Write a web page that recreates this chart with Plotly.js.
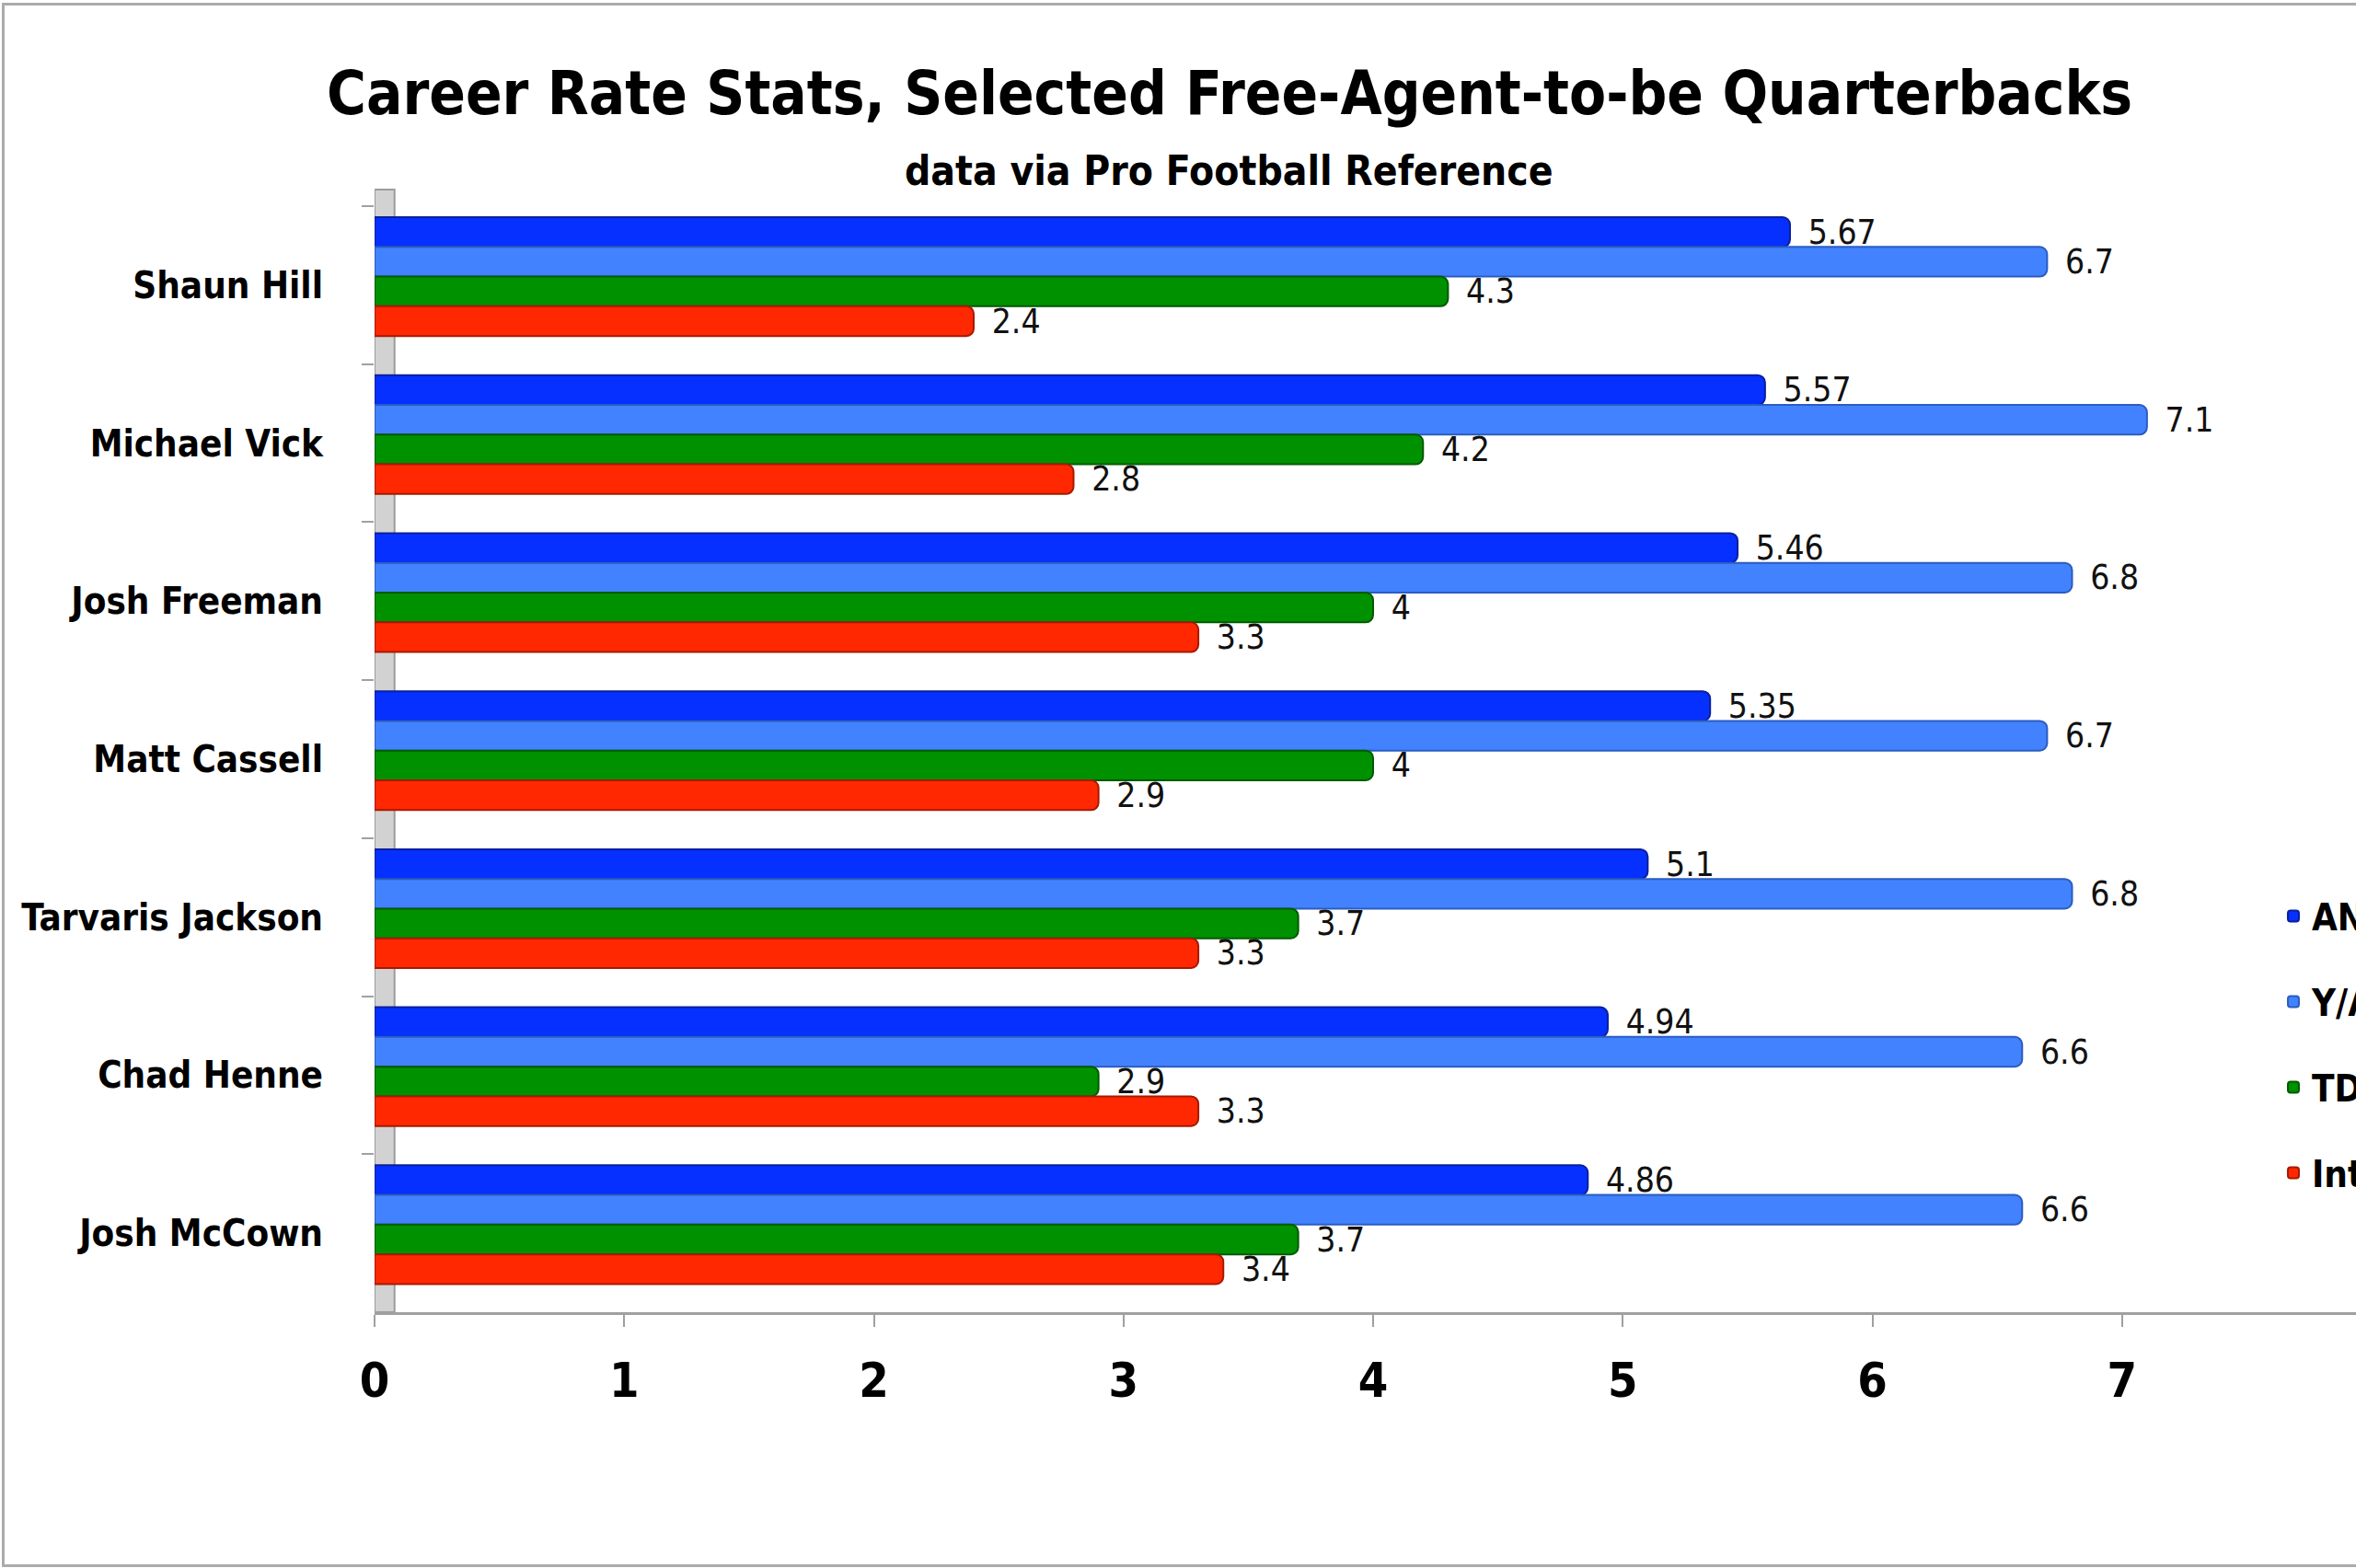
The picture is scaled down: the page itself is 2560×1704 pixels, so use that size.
<!DOCTYPE html>
<html>
<head>
<meta charset="utf-8">
<script src="https://cdn.plot.ly/plotly-3.0.1.min.js"></script>
<style>
  html, body { margin: 0; padding: 0; overflow: hidden; background: #fff; }
  #chart {
    position: absolute; left: 2px; top: 3px;
    width: 2800px; height: 1694px;
    border-left: 3px solid #ababab;
    border-top: 3px solid #ababab;
    border-bottom: 3px solid #ababab;
  }
</style>
</head>
<body>
<div id="chart"></div>
<script>
"use strict";

// values, top to bottom
const players = ['Shaun Hill', 'Michael Vick', 'Josh Freeman', 'Matt Cassell',
                 'Tarvaris Jackson', 'Chad Henne', 'Josh McCown'];
const anyA   = [5.67, 5.57, 5.46, 5.35, 5.1, 4.94, 4.86];
const yPerA  = [6.7, 7.1, 6.8, 6.7, 6.8, 6.6, 6.6];
const tdPct  = [4.3, 4.2, 4, 4, 3.7, 2.9, 3.7];
const intPct = [2.4, 2.8, 3.3, 2.9, 3.3, 3.3, 3.4];
const xTicks = [0, 1, 2, 3, 4, 5, 6, 7];

const FONT = 'DejaVu Sans Condensed, Liberation Sans Narrow, sans-serif';

function barTrace(name, values, fill, edge, offset) {
  return {
    type: 'bar',
    orientation: 'h',
    name: name,
    legendgroup: name,
    y: players,
    x: values,
    offset: offset,
    width: 0.188,
    marker: { color: fill, line: { color: edge, width: 2 }, cornerradius: 8 },
    texttemplate: '\u2002%{x}',
    textposition: 'outside',
    constraintext: 'none',
    cliponaxis: false,
    textfont: { family: FONT, size: 37, color: '#111' },
    hoverinfo: 'skip'
  };
}

let data = [
  barTrace('ANY/A', anyA,   '#0530ff', '#0b1f9e', -0.43),
  barTrace('Y/A',   yPerA,  '#4282ff', '#2b5cc2', -0.242),
  barTrace('TD%',   tdPct,  '#009100', '#005a00', -0.054),
  barTrace('Int%',  intPct, '#ff2800', '#a81800', 0.134)
];

let layout = {
  width: 2800,
  height: 1694,
  margin: { l: 402, r: 228, t: 218, b: 274 },
  paper_bgcolor: '#fff',
  plot_bgcolor: 'rgba(0,0,0,0)',
  barmode: 'overlay',
  showlegend: true,
  title: {
    text: 'Career Rate Stats, Selected Free-Agent-to-be Quarterbacks',
    font: { family: FONT, size: 65, weight: 'bold', color: '#000' },
    xref: 'container', x: 0.4754,
    yref: 'container', y: 0.944, yanchor: 'middle'
  },
  annotations: [{
    text: 'data via Pro Football Reference',
    xref: 'paper', x: 0.428,
    yref: 'paper', y: 1.032, yanchor: 'middle',
    showarrow: false,
    font: { family: FONT, size: 44, weight: 'bold', color: '#000' }
  }],
  xaxis: {
    range: [0, 8],
    tickvals: xTicks,
    ticks: 'outside',
    ticklen: 13,
    tickwidth: 2,
    tickcolor: '#a0a0a0',
    showline: true,
    linecolor: '#a0a0a0',
    linewidth: 3,
    showgrid: false,
    zeroline: false,
    ticklabelstandoff: 14,
    tickfont: { family: FONT, size: 52, weight: 'bold', color: '#000' }
  },
  yaxis: {
    autorange: 'reversed',
    type: 'category',
    ticks: 'outside',
    tickson: 'boundaries',
    ticklen: 13,
    tickwidth: 2,
    tickcolor: '#a0a0a0',
    showline: false,
    showgrid: false,
    zeroline: false,
    ticklabelstandoff: 55,
    tickfont: { family: FONT, size: 40, weight: 'bold', color: '#000' }
  },
  legend: {
    x: 0.9516, xanchor: 'left',
    y: 0.242, yanchor: 'middle',
    traceorder: 'grouped',
    tracegroupgap: 38,
    font: { family: FONT, size: 40, weight: 'bold', color: '#000' },
    bgcolor: 'rgba(0,0,0,0)'
  },
  // grey side wall behind the bars
  shapes: [{
    type: 'rect', layer: 'below',
    xref: 'x', x0: 0, x1: 0.08,
    yref: 'paper', y0: 0, y1: 1.015,
    fillcolor: '#d2d2d2',
    line: { color: '#9c9c9c', width: 2 }
  }]
};

Plotly.newPlot('chart', data, layout, { displayModeBar: false, staticPlot: true });
</script>
</body>
</html>
